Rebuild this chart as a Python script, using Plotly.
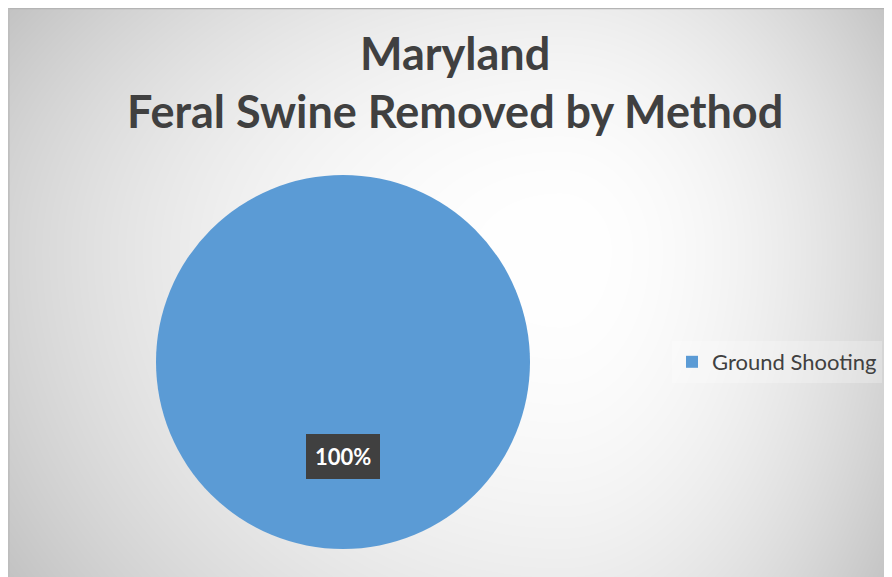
import base64, struct, zlib
import numpy as np
import plotly.graph_objects as go

# ---- data ----
categories = ["Ground Shooting"]
values = [100]
title_lines = ["Maryland", "Feral Swine Removed by Method"]
pie_color = "#5B9BD5"

# page body has an 8px margin; map screen pixels to figure pixels
OFF = 8
W, H = 892 - OFF, 577 - OFF

def px(sx):
    return (sx - OFF) / W

def py(sy):
    return 1 - (sy - OFF) / H

# ---- background gradient image (style only) ----
def make_bg(w, h, cx, cy):
    xs = np.arange(w)[None, :].astype(float)
    ys = np.arange(h)[:, None].astype(float)
    dx = xs - cx
    dy = ys - cy
    u = np.where(dx < 0, dx / cx, dx / (w - cx))
    v = np.where(dy < 0, dy / cy, dy / (h - cy))
    c = 255 - 42 * u**2 - 18 * v**2
    c = np.clip(c, 0, 255).astype(np.uint8)
    rgb = np.stack([c, c, c], axis=-1)
    raw = b"".join(b"\x00" + rgb[r].tobytes() for r in range(h))
    def chunk(t, d):
        return struct.pack(">I", len(d)) + t + d + struct.pack(">I", zlib.crc32(t + d) & 0xffffffff)
    png = b"\x89PNG\r\n\x1a\n" + chunk(b"IHDR", struct.pack(">IIBBBBB", w, h, 8, 2, 0, 0, 0)) \
        + chunk(b"IDAT", zlib.compress(raw, 9)) + chunk(b"IEND", b"")
    return "data:image/png;base64," + base64.b64encode(png).decode()

bg = make_bg(W, H, 560 - OFF, 250 - OFF)

# pie geometry (screen pixels)
pcx, pcy, pr = 343, 362, 187
dom_x = [px(pcx - pr), px(pcx + pr)]
dom_y = [py(pcy + pr), py(pcy - pr)]

total = sum(values)
pct_text = f"{round(values[0] / total * 100)}%"

fig = go.Figure(go.Pie(
    labels=categories, values=values,
    marker=dict(colors=[pie_color], line=dict(width=0)),
    textinfo="none", sort=False, direction="clockwise",
    domain=dict(x=dom_x, y=dom_y), hoverinfo="label+percent",
    showlegend=True,
))

fig.update_layout(
    width=W, height=H,
    margin=dict(l=0, r=0, t=0, b=0),
    paper_bgcolor="white", plot_bgcolor="rgba(0,0,0,0)",
    images=[dict(source=bg, xref="paper", yref="paper",
                 x=0, y=1, sizex=1, sizey=1,
                 xanchor="left", yanchor="top", sizing="stretch", layer="below")],
    shapes=[
        dict(type="line", xref="paper", yref="paper", x0=0, x1=1,
             y0=0.999, y1=0.999, line=dict(color="#b4b4b4", width=1.5)),
        dict(type="line", xref="paper", yref="paper", x0=0.001, x1=0.001,
             y0=1, y1=0, line=dict(color="#bdbdbd", width=1.5)),
    ],
    legend=dict(x=px(672), y=py(362), xanchor="left", yanchor="middle",
                bgcolor="rgba(255,255,255,0.25)",
                font=dict(family="Lato, sans-serif", size=22, color="#404040"),
                itemwidth=30, tracegroupgap=0),
    annotations=[
        dict(text="<b>" + title_lines[0] + "</b>", xref="paper", yref="paper",
             x=px(455), y=py(53), showarrow=False, xanchor="center", yanchor="middle",
             font=dict(family="Lato, sans-serif", size=45, color="#404040")),
        dict(text="<b>" + title_lines[1] + "</b>", xref="paper", yref="paper",
             x=px(455), y=py(111), showarrow=False, xanchor="center", yanchor="middle",
             font=dict(family="Lato, sans-serif", size=45, color="#404040")),
        dict(text="<b>" + pct_text + "</b>", xref="paper", yref="paper",
             x=px(pcx), y=py(pcy + pr * 0.505), showarrow=False,
             xanchor="center", yanchor="middle",
             bgcolor="#404040", borderpad=9, borderwidth=0,
             font=dict(family="Lato, sans-serif", size=22, color="white")),
    ],
)

fig.write_html("out.html")
